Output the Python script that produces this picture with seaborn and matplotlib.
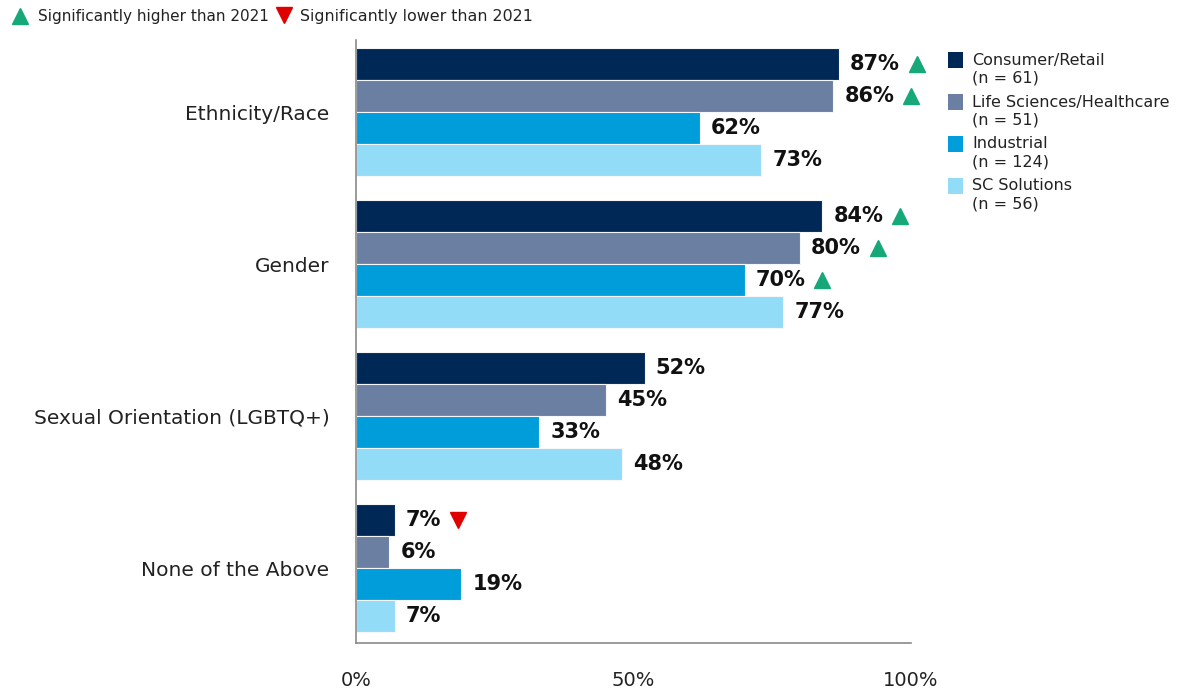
import matplotlib
matplotlib.use("Agg")
import matplotlib.pyplot as plt
import seaborn as sns
import pandas as pd
from matplotlib.lines import Line2D
from matplotlib.patches import Rectangle

categories = ["Ethnicity/Race", "Gender", "Sexual Orientation (LGBTQ+)", "None of the Above"]
segments = ["Consumer/Retail", "Life Sciences/Healthcare", "Industrial", "SC Solutions"]
segment_n = ["(n = 61)", "(n = 51)", "(n = 124)", "(n = 56)"]
consumer_retail = [87, 84, 52, 7]
life_sciences = [86, 80, 45, 6]
industrial = [62, 70, 33, 19]
sc_solutions = [73, 77, 48, 7]
# significance flags: 1 = higher than 2021, -1 = lower, 0 = none
sig_consumer = [1, 1, 0, -1]
sig_life = [1, 1, 0, 0]
sig_industrial = [0, 1, 0, 0]
sig_sc = [0, 0, 0, 0]
x_ticks = [0, 50, 100]
x_tick_labels = ["0%", "50%", "100%"]

colors = ["#002856", "#6b7fa3", "#009ddb", "#93dcf8"]
green = "#16a878"
red = "#e00000"
text_color = "#222222"

values = [consumer_retail, life_sciences, industrial, sc_solutions]
sigs = [sig_consumer, sig_life, sig_industrial, sig_sc]
rows = []
for s, vals in zip(segments, values):
    for c, v in zip(categories, vals):
        rows.append({"category": c, "segment": s, "value": v})
df = pd.DataFrame(rows)

sns.set_style("white")
plt.rcParams["font.family"] = ["DejaVu Sans"]

W, H = 1178, 689
fig = plt.figure(figsize=(W / 100, H / 100), dpi=100)
ax_l, ax_r, ax_t, ax_b = 356, 911, 40, 643
ax = fig.add_axes([ax_l / W, 1 - ax_b / H, (ax_r - ax_l) / W, (ax_b - ax_t) / H])

sns.barplot(data=df, y="category", x="value", hue="segment", order=categories,
            hue_order=segments, palette=colors, saturation=1, orient="h", width=0.84,
            edgecolor="#f4f6f8", linewidth=0.8, legend=False, ax=ax)

ax.set_xlim(0, 100)
ax.set_ylim(3.493, -0.474)
ax.set_xlabel("")
ax.set_ylabel("")
ax.set_xticks(x_ticks)
ax.set_xticklabels(x_tick_labels, fontsize=14, color=text_color)
ax.tick_params(axis="x", length=0, pad=20)
ax.tick_params(axis="y", length=0, pad=19, labelsize=14.5, labelcolor=text_color)
for sp in ["top", "right"]:
    ax.spines[sp].set_visible(False)
for sp in ["left", "bottom"]:
    ax.spines[sp].set_color("#8a8a8a")
    ax.spines[sp].set_linewidth(1.2)

# value labels
texts = []
for bars, vals, sg in zip(ax.containers, values, sigs):
    for bar, v, sflag in zip(bars, vals, sg):
        y = bar.get_y() + bar.get_height() / 2
        t = ax.annotate(f"{v}%", xy=(bar.get_width(), y), xytext=(8, 0),
                        textcoords="offset points", ha="left", va="center",
                        fontsize=15, fontweight="bold", color="#111111")
        texts.append((t, y, sflag))

fig.canvas.draw()
renderer = fig.canvas.get_renderer()
inv = ax.transData.inverted()
for t, y, sflag in texts:
    if sflag == 0:
        continue
    bb = t.get_window_extent(renderer)
    xd, _ = inv.transform((bb.x1 + 17, 0))
    ax.plot([xd], [y], marker="^" if sflag > 0 else "v", markersize=12,
            color=green if sflag > 0 else red, clip_on=False, linestyle="none")

# top significance legend
def fig_marker(xp, yp, m, c):
    fig.add_artist(Line2D([xp / W], [1 - yp / H], marker=m, markersize=12, color=c,
                          linestyle="none", transform=fig.transFigure))

fig_marker(20, 16, "^", green)
fig.text(38 / W, 1 - 16 / H, "Significantly higher than 2021", fontsize=11.0, ha="left",
         va="center", color=text_color)
fig_marker(284, 15, "v", red)
fig.text(300 / W, 1 - 16 / H, "Significantly lower than 2021", fontsize=11.4, ha="left",
         va="center", color=text_color)

# right legend (manual)
for i, (s, n, c) in enumerate(zip(segments, segment_n, colors)):
    y0 = 60 + 42 * i
    fig.add_artist(Rectangle((948 / W, 1 - (y0 + 7.5) / H), 15 / W, 15 / H,
                             facecolor=c, edgecolor="none", transform=fig.transFigure))
    fig.text(972 / W, 1 - y0 / H, s, fontsize=11.5, ha="left", va="center", color=text_color)
    fig.text(972 / W, 1 - (y0 + 18) / H, n, fontsize=11.5, ha="left", va="center",
             color=text_color)

fig.savefig("out.png", dpi=100)
